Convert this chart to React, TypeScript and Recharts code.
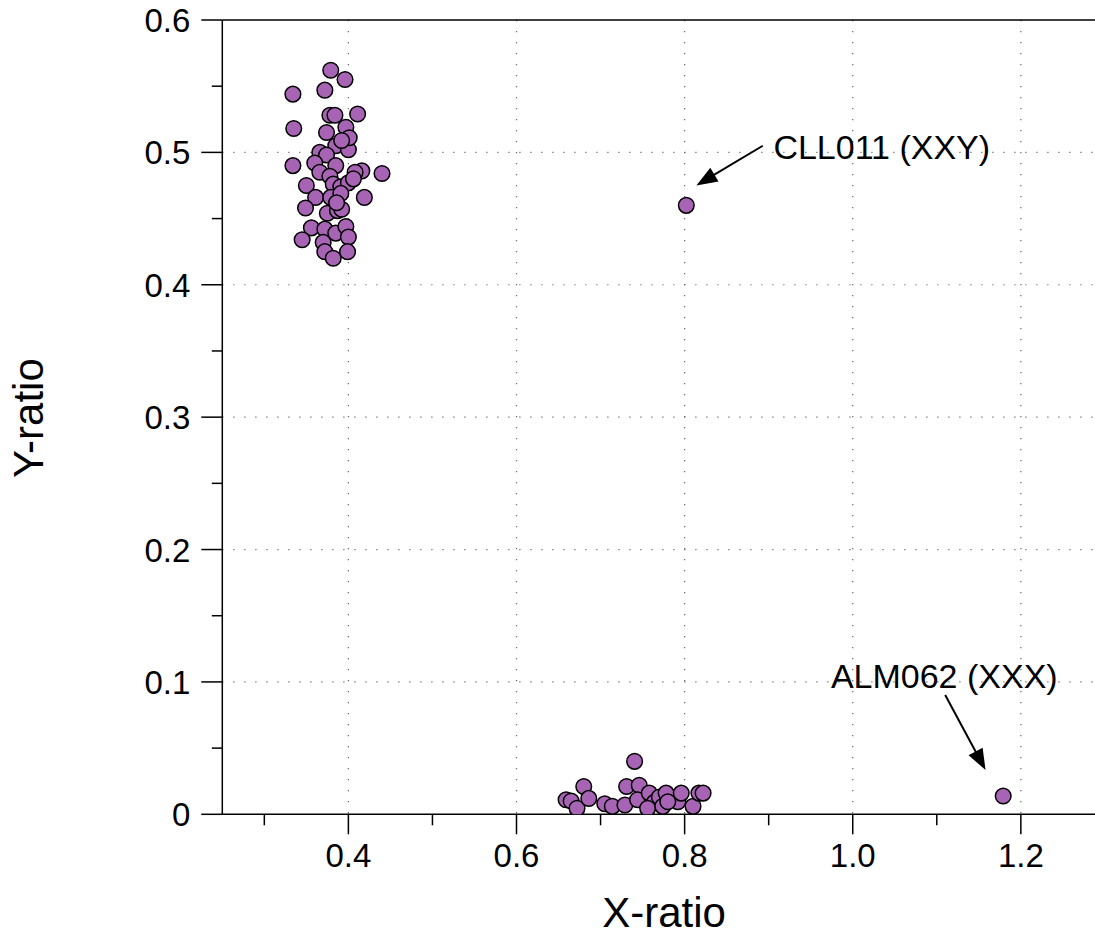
import {
  ScatterChart,
  Scatter,
  XAxis,
  YAxis,
  CartesianGrid,
  ReferenceLine,
  ReferenceDot,
} from "recharts";

const FONT = '"Liberation Sans", Arial, Helvetica, sans-serif';
const FILL = "#a864b4";

// male samples (XY)
const XY_X_RATIO = [
  0.379, 0.396, 0.334, 0.372, 0.411, 0.378, 0.384, 0.335, 0.397, 0.374, 0.385,
  0.4, 0.366, 0.374, 0.334, 0.36, 0.385, 0.366, 0.416, 0.408, 0.44, 0.378,
  0.35, 0.382, 0.391, 0.4, 0.361, 0.419, 0.379, 0.391, 0.349, 0.375, 0.387,
  0.392, 0.356, 0.372, 0.385, 0.397, 0.4, 0.345, 0.37, 0.372, 0.382, 0.399,
  0.401, 0.392, 0.386, 0.406,
];
const XY_Y_RATIO = [
  0.562, 0.555, 0.544, 0.547, 0.529, 0.528, 0.528, 0.518, 0.519, 0.515, 0.505,
  0.502, 0.5, 0.498, 0.49, 0.492, 0.49, 0.485, 0.486, 0.485, 0.484, 0.482,
  0.475, 0.476, 0.474, 0.477, 0.466, 0.466, 0.466, 0.469, 0.458, 0.454, 0.456,
  0.457, 0.443, 0.442, 0.439, 0.444, 0.436, 0.434, 0.432, 0.425, 0.42, 0.425,
  0.511, 0.509, 0.462, 0.48,
];

// female samples (XX)
const XX_X_RATIO = [
  0.7405, 0.68, 0.731, 0.746, 0.659, 0.665, 0.672, 0.686, 0.705, 0.714, 0.729,
  0.744, 0.758, 0.764, 0.756, 0.77, 0.778, 0.774, 0.792, 0.796, 0.81, 0.817,
  0.822, 0.78,
];
const XX_Y_RATIO = [
  0.04, 0.021, 0.021, 0.022, 0.011, 0.01, 0.0045, 0.012, 0.008, 0.006, 0.007,
  0.011, 0.016, 0.009, 0.0045, 0.013, 0.016, 0.006, 0.0095, 0.016, 0.006,
  0.016, 0.016, 0.0095,
];

// outliers + annotations
const OUTLIER_NAMES = ["CLL011 (XXY)", "ALM062 (XXX)"];
const OUTLIER_X = [0.802, 1.179];
const OUTLIER_Y = [0.46, 0.0138];
const LABEL_X = [0.9056, 0.974];
const LABEL_Y = [0.5042, 0.1041];
const ARROW_FROM = [
  { x: 0.893, y: 0.505 },
  { x: 1.11, y: 0.0901 },
];
const ARROW_TO = [
  { x: 0.814, y: 0.475 },
  { x: 1.158, y: 0.0335 },
];

const X_TICKS = [0.3, 0.4, 0.5, 0.6, 0.7, 0.8, 0.9, 1.0, 1.1, 1.2];
const X_MAJOR = [0.4, 0.6, 0.8, 1.0, 1.2];
const Y_TICKS = [0, 0.05, 0.1, 0.15, 0.2, 0.25, 0.3, 0.35, 0.4, 0.45, 0.5, 0.55, 0.6];
const Y_MAJOR = [0, 0.1, 0.2, 0.3, 0.4, 0.5, 0.6];
const Y_GRID = [0.1, 0.2, 0.3, 0.4, 0.5];

const points = [
  ...XY_X_RATIO.map((x, i) => ({ x, y: XY_Y_RATIO[i] })),
  ...XX_X_RATIO.map((x, i) => ({ x, y: XX_Y_RATIO[i] })),
  ...OUTLIER_X.map((x, i) => ({ x, y: OUTLIER_Y[i] })),
];

function XTick(props: any) {
  const { x, y, payload } = props;
  const major = X_MAJOR.includes(payload.value);
  return (
    <g>
      <line x1={x} y1={y} x2={x} y2={y + (major ? 20 : 11)} stroke="#000" strokeWidth={1.5} />
      {major && (
        <text x={x} y={y + 53} textAnchor="middle" fontSize={33} fontFamily={FONT} fill="#000">
          {payload.value.toFixed(1)}
        </text>
      )}
    </g>
  );
}

function YTick(props: any) {
  const { x, y, payload } = props;
  const major = Y_MAJOR.includes(payload.value);
  return (
    <g>
      <line x1={x - (major ? 21 : 10.5)} y1={y} x2={x} y2={y} stroke="#000" strokeWidth={1.5} />
      {major && (
        <text x={x - 32} y={y + 12} textAnchor="end" fontSize={33} fontFamily={FONT} fill="#000">
          {payload.value === 0 ? "0" : payload.value.toFixed(1)}
        </text>
      )}
    </g>
  );
}

function XTitle(props: any) {
  const vb = props.viewBox;
  return (
    <text x={vb.x + vb.width / 2 + 4.6} y={vb.y + 112.7} textAnchor="middle" fontSize={42} fontFamily={FONT} fill="#000">
      X-ratio
    </text>
  );
}

function YTitle(props: any) {
  const vb = props.viewBox;
  const cx = vb.x + 43;
  const cy = vb.y + vb.height / 2 + 1;
  return (
    <text x={cx} y={cy} transform={`rotate(-90 ${cx} ${cy})`} textAnchor="middle" fontSize={42} fontFamily={FONT} fill="#000">
      Y-ratio
    </text>
  );
}

function Arrow(props: any) {
  const { x1, y1, x2, y2 } = props;
  const dx = x2 - x1;
  const dy = y2 - y1;
  const len = Math.sqrt(dx * dx + dy * dy);
  const ux = dx / len;
  const uy = dy / len;
  const head = 21;
  const half = 8;
  const bx = x2 - ux * head;
  const by = y2 - uy * head;
  return (
    <g>
      <line x1={x1} y1={y1} x2={bx + ux * 2} y2={by + uy * 2} stroke="#000" strokeWidth={2} />
      <polygon
        points={`${x2},${y2} ${bx - uy * half},${by + ux * half} ${bx + uy * half},${by - ux * half}`}
        fill="#000"
      />
    </g>
  );
}

const Dot = (props: any) => (
  <circle cx={props.cx} cy={props.cy} r={7.8} fill={FILL} stroke="#000" strokeWidth={1.5} />
);

export default function App() {
  return (
    <div style={{ position: "absolute", left: 0, top: 0, width: 1095, height: 936, overflow: "hidden", background: "#fff" }}>
      <ScatterChart width={1100} height={936} margin={{ top: 20, right: 3.5, bottom: 0, left: 0 }}>
        <CartesianGrid
          stroke="#666"
          strokeWidth={1.2}
          strokeDasharray="1.2 9.8"
          horizontalValues={Y_GRID}
          verticalValues={X_MAJOR}
        />
        <XAxis
          type="number"
          dataKey="x"
          domain={[0.25, 1.29]}
          allowDataOverflow
          ticks={X_TICKS}
          interval={0}
          tickSize={0}
          tickMargin={0}
          tick={<XTick />}
          tickLine={false}
          axisLine={{ stroke: "#000", strokeWidth: 1.5 }}
          height={121.7}
          label={{ content: XTitle }}
        />
        <YAxis
          type="number"
          dataKey="y"
          domain={[0, 0.6]}
          allowDataOverflow
          ticks={Y_TICKS}
          interval={0}
          tickSize={0}
          tickMargin={0}
          tick={<YTick />}
          tickLine={false}
          axisLine={{ stroke: "#000", strokeWidth: 1.5 }}
          width={222.3}
          label={{ content: YTitle }}
        />
        <ReferenceLine y={0.6} stroke="#000" strokeWidth={1.5} />
        <Scatter data={points} shape={Dot} isAnimationActive={false} />
        {OUTLIER_NAMES.map((name, i) => (
          <ReferenceLine
            key={`arrow-${name}`}
            segment={[ARROW_FROM[i], ARROW_TO[i]]}
            shape={Arrow}
          />
        ))}
        {OUTLIER_NAMES.map((name, i) => (
          <ReferenceDot
            key={`label-${name}`}
            x={LABEL_X[i]}
            y={LABEL_Y[i]}
            r={0}
            shape={(p: any) => (
              <text x={p.cx} y={p.cy + 12} fontSize={34} fontFamily={FONT} fill="#000">
                {name}
              </text>
            )}
          />
        ))}
      </ScatterChart>
    </div>
  );
}
